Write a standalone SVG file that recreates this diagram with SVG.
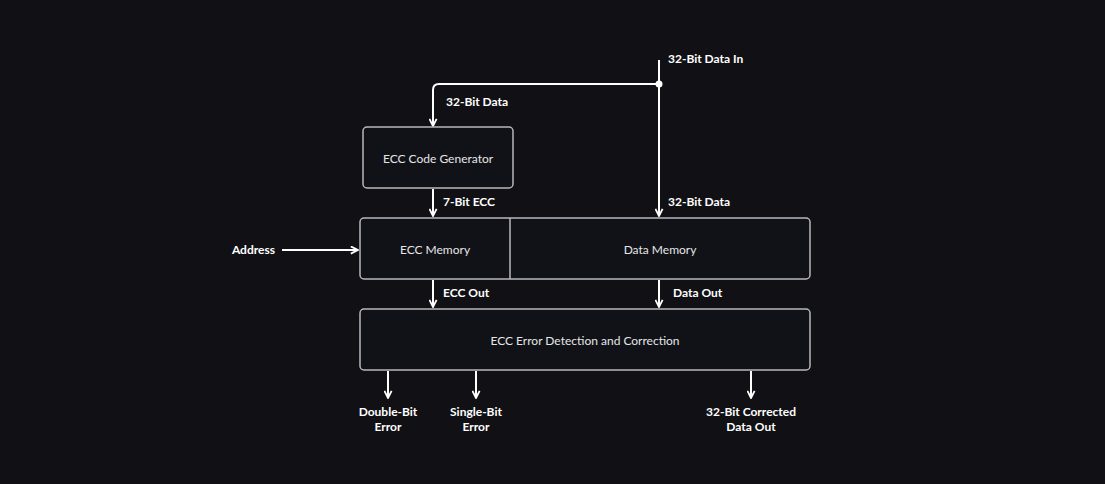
<svg xmlns="http://www.w3.org/2000/svg" width="1105" height="484" viewBox="0 0 1105 484">
<style>
.node{fill:#111217;stroke:#b8b8bc;stroke-width:1.5}
.nt{font-family:Lato,"Open Sans",sans-serif;font-size:12px;fill:#e6e6e6;text-anchor:middle;dominant-baseline:central}
.lb{font-family:Lato,"Open Sans",sans-serif;font-size:12px;font-weight:bold;fill:#ffffff}
.ln{fill:none;stroke:#ffffff;stroke-width:2}
</style>
<defs>
<marker id="ah" viewBox="0 0 10 10" refX="9" refY="5" markerWidth="4.5" markerHeight="4.5" orient="auto" markerUnits="strokeWidth">
<path d="M1,1 L9,5 L1,9" fill="none" stroke="#ffffff" stroke-width="2" stroke-linejoin="miter"/>
</marker>
</defs>
<rect width="1105" height="484" fill="#111115"/>
<g id="connectors">
<path class="ln" d="M659,60 V216" marker-end="url(#ah)"/>
<path class="ln" d="M659,84 H439 Q433,84 433,90 V126" marker-end="url(#ah)"/>
<circle cx="659" cy="84" r="3.5" fill="#ffffff"/>
<path class="ln" d="M433,189 V216" marker-end="url(#ah)"/>
<path class="ln" d="M282,250 H358" marker-end="url(#ah)"/>
<path class="ln" d="M433,280 V307" marker-end="url(#ah)"/>
<path class="ln" d="M659,280 V307" marker-end="url(#ah)"/>
<path class="ln" d="M388,371 V398" marker-end="url(#ah)"/>
<path class="ln" d="M476,371 V398" marker-end="url(#ah)"/>
<path class="ln" d="M751,371 V398" marker-end="url(#ah)"/>
<text class="lb" x="668" y="63">32-Bit Data In</text>
<text class="lb" x="446" y="106">32-Bit Data</text>
<text class="lb" x="443" y="206">7-Bit ECC</text>
<text class="lb" x="668" y="206">32-Bit Data</text>
<text class="lb" x="275" y="254" text-anchor="end">Address</text>
<text class="lb" x="443" y="297">ECC Out</text>
<text class="lb" x="673" y="297">Data Out</text>
<text class="lb" x="388" y="416" text-anchor="middle">Double-Bit</text>
<text class="lb" x="388" y="431" text-anchor="middle">Error</text>
<text class="lb" x="476" y="416" text-anchor="middle">Single-Bit</text>
<text class="lb" x="476" y="431" text-anchor="middle">Error</text>
<text class="lb" x="751" y="416" text-anchor="middle">32-Bit Corrected</text>
<text class="lb" x="751" y="431" text-anchor="middle">Data Out</text>
</g>
<g id="ecc-code-generator">
<rect class="node" x="363" y="127" width="150" height="61" rx="4"/>
<text class="nt" x="438" y="158">ECC Code Generator</text>
</g>
<g id="memory">
<rect class="node" x="360" y="218" width="450" height="61" rx="4"/>
<line x1="510" y1="218" x2="510" y2="279" stroke="#b8b8bc" stroke-width="1.5"/>
<text class="nt" x="435" y="249">ECC Memory</text>
<text class="nt" x="660" y="249">Data Memory</text>
</g>
<g id="ecc-error-detection">
<rect class="node" x="360" y="309" width="450" height="61" rx="4"/>
<text class="nt" x="585" y="340">ECC Error Detection and Correction</text>
</g>
</svg>
